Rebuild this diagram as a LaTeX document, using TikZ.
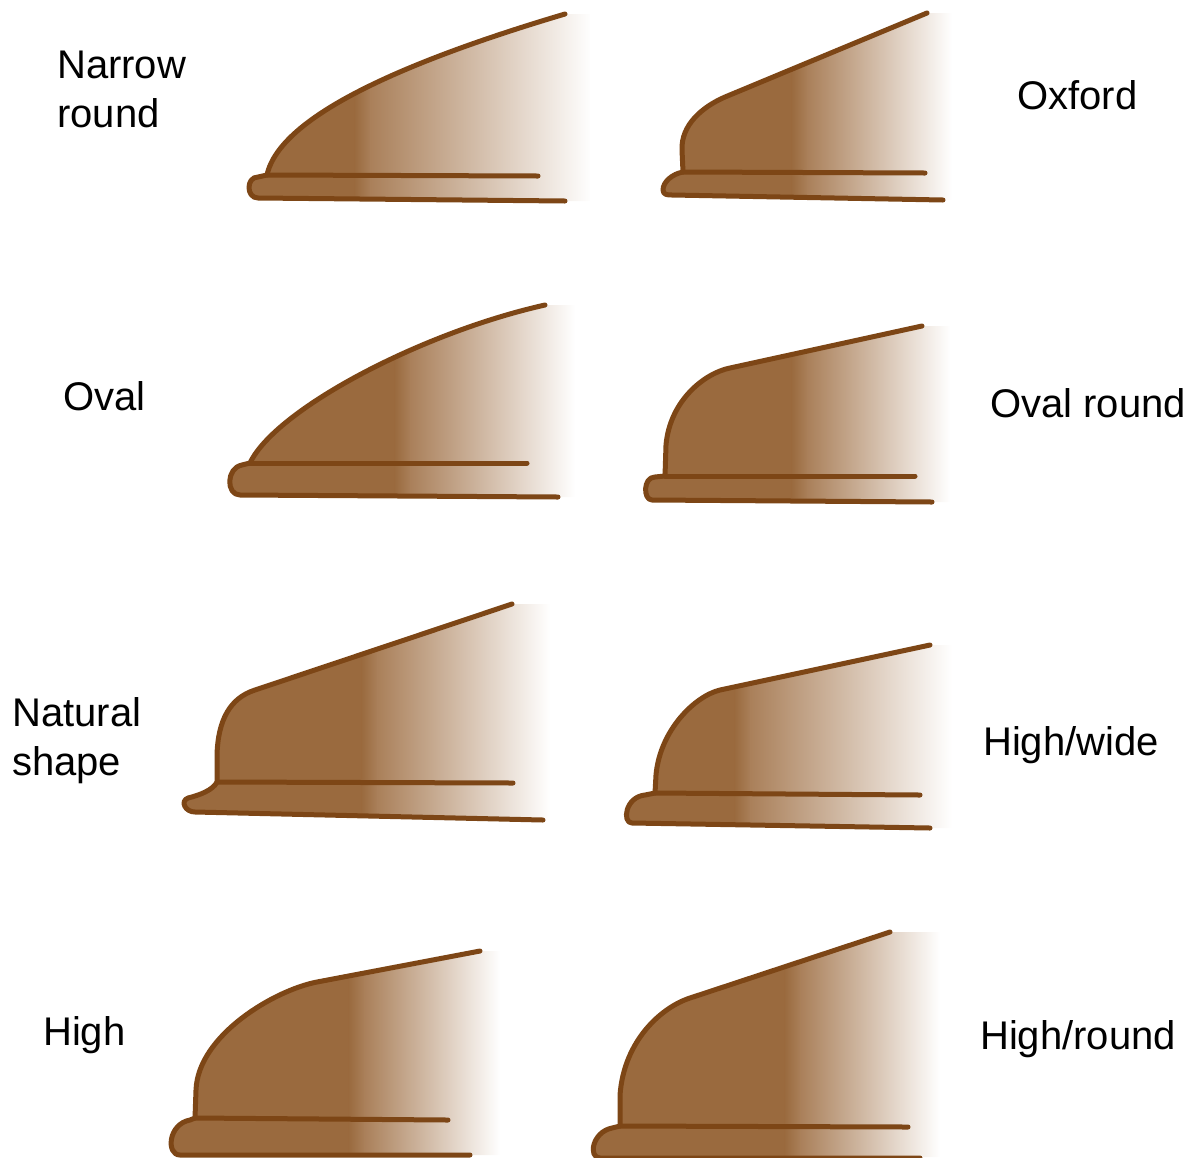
\documentclass[tikz,border=0pt]{standalone}
\usepackage{fontspec}
\setmainfont{Liberation Sans}
\definecolor{hatfill}{RGB}{154,106,62}
\definecolor{hatfade}{RGB}{170,128,90}
\definecolor{hatline}{RGB}{125,70,22}
\tikzset{
  rim/.style={draw=hatline, line width=5pt, line cap=round, line join=round},
  lbl/.style={anchor=base west, inner sep=0pt, align=left, font=\fontsize{40}{49}\selectfont}
}
% body of a crown: solid brown up to #2, softened step, then fading to white at #3
\newcommand\crownbody[3]{%
  \begin{scope}
    \clip #1;
    \fill[hatfill] (0,0) rectangle (#2-8,1157);
    \shade[left color=hatfill, right color=hatfade] (#2-8.5,0) rectangle (#2+8,1157);
    \shade[left color=hatfade, right color=white] (#2+7.5,0) rectangle (#3,1157);
  \end{scope}}
\begin{document}
\begin{tikzpicture}[x=1pt, y=-1pt]
\useasboundingbox (0,0) rectangle (1193,1157);

% ---------- Narrow round ----------
\crownbody{(565,14) .. controls (410,60) and (280,115) .. (267,175) -- (258,177) .. controls (246,177) and (246,198) .. (258,198) -- (565,201) -- (590,201) -- (590,14) -- cycle}{363}{592}
\coordinate (a-top) at (565,14);
\coordinate (a-j) at (267,175);
\coordinate (a-ledge) at (538,176);
\coordinate (a-bot) at (565,201);
\draw[rim] (a-top) .. controls (410,60) and (280,115) .. (a-j) -- (258,177) .. controls (246,177) and (246,198) .. (258,198) -- (a-bot);
\draw[rim] (a-j) -- (a-ledge);
\node[lbl] (l-a) at (57,127) {Narrow\\round};

% ---------- Oxford ----------
\crownbody{(927,13) -- (725,97) .. controls (702,107) and (681,125) .. (682,150) -- (683,172) .. controls (672,174) and (663,182) .. (663,190) .. controls (663,195) and (668,195) .. (672,195) -- (943,200) -- (952,200) -- (952,13) -- cycle}{800}{952}
\coordinate (b-top) at (927,13);
\coordinate (b-j) at (683,172);
\coordinate (b-ledge) at (925,173);
\coordinate (b-bot) at (943,200);
\draw[rim] (b-top) -- (725,97) .. controls (702,107) and (681,125) .. (682,150) -- (b-j) .. controls (672,174) and (663,182) .. (663,190) .. controls (663,195) and (668,195) .. (672,195) -- (b-bot);
\draw[rim] (b-j) -- (b-ledge);
\node[lbl] (l-b) at (1017,109) {Oxford};

% ---------- Oval ----------
\crownbody{(545,305) .. controls (420,333) and (275,410) .. (250,463) -- (242,465) .. controls (226,468) and (226,495) .. (240,495) -- (558,497) -- (575,497) -- (575,305) -- cycle}{403}{575}
\coordinate (c-top) at (545,305);
\coordinate (c-j) at (250,463);
\coordinate (c-ledge) at (527,463);
\coordinate (c-bot) at (558,497);
\draw[rim] (c-top) .. controls (420,333) and (275,410) .. (c-j) -- (242,465) .. controls (226,468) and (226,495) .. (240,495) -- (c-bot);
\draw[rim] (c-j) -- (c-ledge);
\node[lbl] (l-c) at (63,410) {Oval};

% ---------- Oval round ----------
\crownbody{(922,326) -- (730,368) .. controls (705,373) and (670,400) .. (666,445) -- (665,476) -- (655,477) .. controls (643,477) and (643,500) .. (652,500) -- (932,502) -- (950,502) -- (950,326) -- cycle}{800}{950}
\coordinate (d-top) at (922,326);
\coordinate (d-j) at (665,476);
\coordinate (d-ledge) at (915,476);
\coordinate (d-bot) at (932,502);
\draw[rim] (d-top) -- (730,368) .. controls (705,373) and (670,400) .. (666,445) -- (d-j) -- (655,477) .. controls (643,477) and (643,500) .. (652,500) -- (d-bot);
\draw[rim] (d-j) -- (d-ledge);
\node[lbl] (l-d) at (990,417) {Oval round};

% ---------- Natural shape ----------
\crownbody{(512,604) -- (255,690) .. controls (230,698) and (218,720) .. (217,755) -- (217,782) .. controls (213,790) and (200,795) .. (188,798) .. controls (180,801) and (185,812) .. (195,812) -- (543,820) -- (550,820) -- (550,604) -- cycle}{370}{550}
\coordinate (e-top) at (512,604);
\coordinate (e-j) at (217,782);
\coordinate (e-ledge) at (513,783);
\coordinate (e-bot) at (543,820);
\draw[rim] (e-top) -- (255,690) .. controls (230,698) and (218,720) .. (217,755) -- (e-j) .. controls (213,790) and (200,795) .. (188,798) .. controls (180,801) and (185,812) .. (195,812) -- (e-bot);
\draw[rim] (e-j) -- (e-ledge);
\node[lbl] (l-e) at (12,775) {Natural\\shape};

% ---------- High/wide ----------
\crownbody{(930,645) -- (720,690) .. controls (695,696) and (660,730) .. (656,775) -- (655,793) -- (645,795) .. controls (625,797) and (622,823) .. (632,823) -- (930,828) -- (952,828) -- (952,645) -- cycle}{743}{952}
\coordinate (f-top) at (930,645);
\coordinate (f-j) at (655,793);
\coordinate (f-ledge) at (920,795);
\coordinate (f-bot) at (930,828);
\draw[rim] (f-top) -- (720,690) .. controls (695,696) and (660,730) .. (656,775) -- (f-j) -- (645,795) .. controls (625,797) and (622,823) .. (632,823) -- (f-bot);
\draw[rim] (f-j) -- (f-ledge);
\node[lbl] (l-f) at (983,755) {High/wide};

% ---------- High ----------
\crownbody{(480,951) -- (317,982) .. controls (275,990) and (198,1035) .. (196,1090) -- (195,1118) -- (190,1120) .. controls (168,1124) and (166,1155) .. (180,1155) -- (470,1155) -- (500,1155) -- (500,951) -- cycle}{357}{500}
\coordinate (g-top) at (480,951);
\coordinate (g-j) at (195,1118);
\coordinate (g-ledge) at (448,1120);
\coordinate (g-bot) at (470,1155);
\draw[rim] (g-top) -- (317,982) .. controls (275,990) and (198,1035) .. (196,1090) -- (g-j) -- (190,1120) .. controls (168,1124) and (166,1155) .. (180,1155) -- (g-bot);
\draw[rim] (g-j) -- (g-ledge);
\node[lbl] (l-g) at (43,1045) {High};

% ---------- High/round ----------
\crownbody{(890,932) -- (690,998) .. controls (662,1007) and (624,1040) .. (620,1095) -- (620,1126) -- (612,1128) .. controls (592,1132) and (588,1157) .. (600,1157) -- (920,1157) -- (940,1157) -- (940,932) -- cycle}{793}{940}
\coordinate (h-top) at (890,932);
\coordinate (h-j) at (620,1126);
\coordinate (h-ledge) at (908,1127);
\coordinate (h-bot) at (920,1158);
\draw[rim] (h-top) -- (690,998) .. controls (662,1007) and (624,1040) .. (620,1095) -- (h-j) -- (612,1128) .. controls (592,1132) and (588,1158) .. (600,1158) -- (h-bot);
\draw[rim] (h-j) -- (h-ledge);
\node[lbl] (l-h) at (980,1049) {High/round};

\end{tikzpicture}
\end{document}
